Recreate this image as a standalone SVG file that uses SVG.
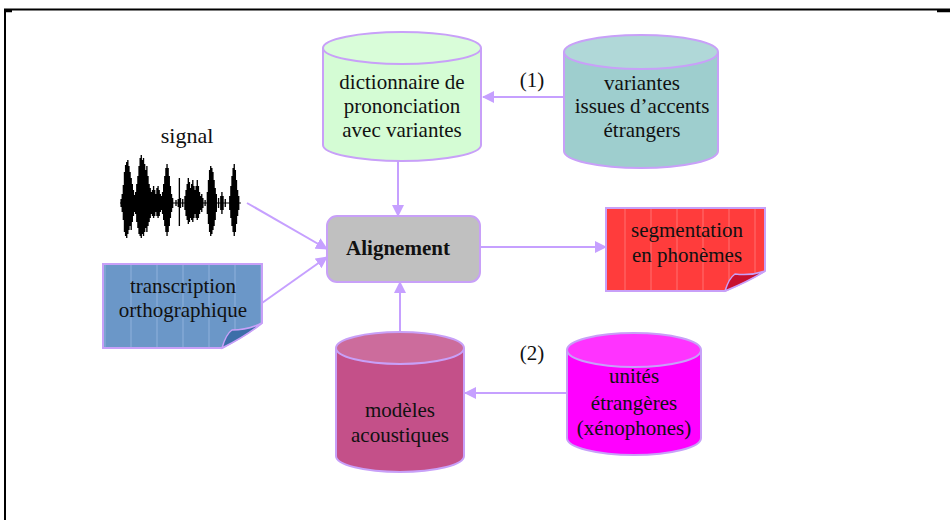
<svg xmlns="http://www.w3.org/2000/svg" width="950" height="520" viewBox="0 0 950 520">
<style>
.t{font-family:"Liberation Serif","Times New Roman",serif;font-size:21px;fill:#111;text-anchor:middle}
.b{font-weight:bold}
.cyl{stroke:#c8a0f8;stroke-width:2}
.con{stroke:#c6a0ff;stroke-width:2;fill:none}
.note{stroke:#c8a0f8;stroke-width:2}
</style>
<defs>
<marker id="ah" viewBox="0 0 12 12" refX="11" refY="6" markerWidth="12" markerHeight="12" markerUnits="userSpaceOnUse" orient="auto">
<path d="M0,0 L12,6 L0,12 z" fill="#c6a0ff"/>
</marker>
<pattern id="stripesB" width="26" height="10" patternUnits="userSpaceOnUse">
<rect width="26" height="10" fill="#6b97c8"/>
<line x1="1" y1="0" x2="1" y2="10" stroke="#8fb2dc" stroke-width="1"/>
</pattern>
<pattern id="stripesR" width="26" height="10" patternUnits="userSpaceOnUse">
<rect width="26" height="10" fill="#ff3c3c"/>
<line x1="1" y1="0" x2="1" y2="10" stroke="#ff7070" stroke-width="1"/>
</pattern>
</defs>
<rect width="950" height="520" fill="#fff"/>
<g id="frame" stroke="#000" fill="none">
<path d="M4,9.5 H950 M5,9 V520" stroke-width="2"/>
<path d="M4,11 H12 M937,11 H950" stroke-width="2.5"/>
</g>

<g id="connectors">
<line class="con" x1="564" y1="97" x2="483" y2="97" marker-end="url(#ah)"/>
<line class="con" x1="398" y1="161" x2="398" y2="216" marker-end="url(#ah)"/>
<line class="con" x1="400" y1="347" x2="400" y2="282" marker-end="url(#ah)"/>
<line class="con" x1="567" y1="393" x2="465" y2="393" marker-end="url(#ah)"/>
<line class="con" x1="480" y1="247" x2="606" y2="247" marker-end="url(#ah)"/>
<line class="con" x1="247" y1="203" x2="327" y2="249" marker-end="url(#ah)"/>
<line class="con" x1="262" y1="303" x2="327" y2="257" marker-end="url(#ah)"/>
</g>

<g id="dictionnaire">
<path class="cyl" d="M323,48 V145 A79,16 0 0 0 481,145 V48" fill="#d4fcd4"/>
<ellipse class="cyl" cx="402" cy="48" rx="79" ry="16" fill="#d9fdd9"/>
<text class="t" x="402" y="89">dictionnaire de</text>
<text class="t" x="402" y="113">prononciation</text>
<text class="t" x="402" y="137">avec variantes</text>
</g>

<g id="variantes">
<path class="cyl" d="M564,52 V151 A77,17 0 0 0 718,151 V52" fill="#9ecece"/>
<ellipse class="cyl" cx="641" cy="52" rx="77" ry="17" fill="#b0d8d8"/>
<text class="t" x="642" y="90">variantes</text>
<text class="t" x="642" y="113">issues d’accents</text>
<text class="t" x="642" y="137">étrangers</text>
</g>
<text class="t" x="532" y="87">(1)</text>

<g id="alignement">
<rect x="327" y="216" width="153" height="66" rx="10" fill="#c0c0c0" stroke="#c8a0f8" stroke-width="2"/>
<text class="t b" x="398" y="255">Alignement</text>
</g>

<g id="signal">
<text class="t" x="187" y="143" style="font-size:22px">signal</text>
<path stroke="#000" stroke-width="1.2" fill="none" transform="translate(120,0) scale(1.12,1) translate(-120,0)" d="M120,203 H228
M121,199 V207 M122,194 V212 M123,185 V220 M124,172 V232 M125,165 V236 M126,162 V238 M127,160 V234 M128,166 V230 M129,172 V226 M130,178 V230 M131,184 V222 M132,190 V216 M133,195 V212 M134,192 V214
M135,184 V222 M136,176 V228 M137,166 V234 M138,158 V236 M139,155 V238 M140,160 V234 M141,158 V236 M142,164 V232 M143,170 V228 M144,166 V232 M145,176 V226 M146,184 V222 M147,188 V218 M148,192 V214
M149,190 V216 M150,186 V218 M151,190 V216 M152,194 V212 M153,188 V216 M154,186 V218 M155,190 V216 M156,194 V212 M157,196 V210 M158,192 V214
M159,184 V220 M160,176 V226 M161,168 V232 M162,164 V236 M163,168 V232 M164,176 V226 M165,186 V218 M166,194 V212 M167,198 V208
M170,200 V206 M172,199 V207 M173,178 V226 M174,198 V208 M176,199 V207
M178,196 V210 M179,190 V216 M180,184 V220 M181,178 V224 M182,182 V222 M183,188 V218 M184,184 V220 M185,180 V222 M186,186 V218 M187,190 V214 M188,186 V218 M189,180 V220 M190,186 V218 M191,192 V214 M192,196 V210
M193,194 V212 M194,198 V208 M196,200 V206
M198,192 V214 M199,180 V224 M200,170 V232 M201,166 V236 M202,168 V234 M203,172 V230 M204,180 V226 M205,188 V220 M206,194 V212
M208,198 V208 M210,196 V210 M211,192 V214 M212,196 V210 M214,199 V207
M218,196 V210 M219,186 V218 M220,176 V226 M221,168 V232 M222,164 V236 M223,170 V232 M224,180 V224 M225,190 V216 M226,196 V210"/>
</g>

<g id="transcription">
<path class="note" d="M103,264 H262 V323 Q246,336 222,348 H103 Z" fill="url(#stripesB)"/>
<path d="M222,348 Q226,334 232,330 Q248,330 262,323 Q246,336 222,348 Z" fill="#3c6ea8" stroke="#c8a0f8" stroke-width="1.5"/>
<text class="t" x="183" y="293">transcription</text>
<text class="t" x="183" y="317">orthographique</text>
</g>

<g id="segmentation">
<path class="note" d="M606,208 H765 V271 Q749,281 725,291 H606 Z" fill="url(#stripesR)"/>
<path d="M725,291 Q729,278 735,274 Q751,276 765,271 Q749,281 725,291 Z" fill="#c8102e" stroke="#c8a0f8" stroke-width="1.5"/>
<text class="t" x="687" y="237">segmentation</text>
<text class="t" x="687" y="262">en phonèmes</text>
</g>

<g id="modeles">
<path class="cyl" d="M336,348 V456 A64,16 0 0 0 464,456 V348" fill="#c45089"/>
<ellipse class="cyl" cx="400" cy="348" rx="64" ry="16" fill="#cc6c9c"/>
<text class="t" x="400" y="417">modèles</text>
<text class="t" x="400" y="442">acoustiques</text>
</g>

<g id="unites">
<path class="cyl" d="M567,350 V438 A67,17 0 0 0 701,438 V350" fill="#ff00ff"/>
<ellipse class="cyl" cx="634" cy="350" rx="67" ry="17" fill="#ff33ff"/>
<text class="t" x="634" y="383">unités</text>
<text class="t" x="634" y="410">étrangères</text>
<text class="t" x="634" y="435">(xénophones)</text>
</g>
<text class="t" x="532" y="360">(2)</text>
</svg>
